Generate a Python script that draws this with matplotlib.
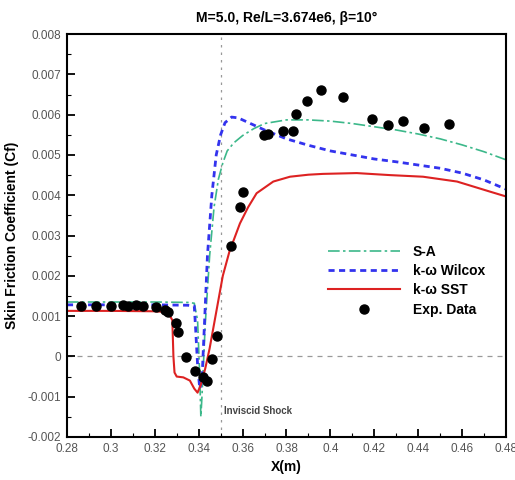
import matplotlib
matplotlib.use("Agg")
import matplotlib.pyplot as plt
from matplotlib.ticker import MultipleLocator, FormatStrFormatter

plt.rcParams['font.family'] = ['Liberation Sans', 'DejaVu Sans']

# S-A model
sa_x = [0.28, 0.30, 0.32, 0.335, 0.338, 0.3395, 0.3405, 0.341, 0.3415, 0.343, 0.345,
        0.347, 0.349, 0.351, 0.353, 0.356, 0.36, 0.365, 0.37, 0.38, 0.39, 0.40, 0.41,
        0.42, 0.43, 0.44, 0.45, 0.46, 0.47, 0.48]
sa_cf = [0.00135, 0.00135, 0.00135, 0.00134, 0.00132, 0.0009, -0.0005, -0.0015, -0.0010,
         0.0008, 0.0025, 0.0037, 0.0044, 0.0048, 0.0051, 0.0053, 0.00548, 0.00565, 0.00578,
         0.00587, 0.00587, 0.00584, 0.00578, 0.0057, 0.00562, 0.00552, 0.0054, 0.00525,
         0.00508, 0.00488]

# k-omega Wilcox
wil_x = [0.28, 0.30, 0.32, 0.335, 0.338, 0.3385, 0.3395, 0.3405, 0.3415, 0.3428, 0.344,
         0.346, 0.348, 0.350, 0.352, 0.355, 0.358, 0.362, 0.366, 0.37, 0.38, 0.39, 0.40,
         0.41, 0.42, 0.43, 0.44, 0.45, 0.46, 0.47, 0.48]
wil_cf = [0.00128, 0.00128, 0.00128, 0.00127, 0.00125, 0.0008, -0.0002, -0.0008, -0.0006,
          0.0010, 0.0025, 0.0040, 0.0050, 0.0055, 0.0058, 0.00594, 0.00592, 0.00582, 0.00572,
          0.00562, 0.0054, 0.00524, 0.0051, 0.005, 0.0049, 0.00483, 0.00475, 0.00467,
          0.00455, 0.00438, 0.00415]

# k-omega SST
sst_x = [0.28, 0.30, 0.32, 0.326, 0.328, 0.3285, 0.329, 0.330, 0.333, 0.336, 0.338, 0.3395,
         0.341, 0.343, 0.345, 0.347, 0.349, 0.351, 0.354, 0.3588, 0.3625, 0.3664, 0.374,
         0.3816, 0.39, 0.3966, 0.412, 0.4271, 0.4422, 0.4577, 0.4727, 0.48]
sst_cf = [0.00113, 0.00113, 0.00112, 0.0011, 0.0009, 0.0000, -0.0004, -0.0005, -0.00052,
          -0.0006, -0.0008, -0.0009, -0.0007, -0.0003, 0.0002, 0.0008, 0.0014, 0.0020,
          0.0026, 0.0033, 0.0037, 0.00405, 0.00434, 0.00446, 0.00451, 0.00453, 0.00455,
          0.0045, 0.00446, 0.00434, 0.00409, 0.00397]

# experiment
exp_x = [0.2862, 0.2931, 0.3000, 0.3054, 0.3079, 0.3114, 0.3148, 0.3205, 0.3246, 0.3261,
         0.3295, 0.3307, 0.3341, 0.3383, 0.3418, 0.3436, 0.3459, 0.3485, 0.3547, 0.3588,
         0.3600, 0.3697, 0.3717, 0.3783, 0.3831, 0.3842, 0.3895, 0.3956, 0.4059, 0.4188,
         0.4264, 0.4332, 0.4428, 0.4542]
exp_cf = [0.00126, 0.00126, 0.00126, 0.00128, 0.00126, 0.00128, 0.00126, 0.00122, 0.00114,
          0.0011, 0.00084, 0.0006, -0.00002, -0.00037, -0.0005, -0.00061, -0.00006, 0.00051,
          0.00274, 0.0037, 0.00408, 0.0055, 0.00552, 0.0056, 0.0056, 0.00602, 0.00633,
          0.00662, 0.00645, 0.0059, 0.00574, 0.00584, 0.00567, 0.00578]

fig = plt.figure(figsize=(5.15, 4.8), dpi=100)
ax = fig.add_axes([0.130, 0.0896, 0.8525, 0.8394])

ax.axhline(0, color='#999999', lw=0.9, ls=(0, (4, 4)), zorder=1)
ax.axvline(0.35, color='#999999', lw=0.9, ls=(0, (2, 4)), zorder=1)

ax.plot(sa_x, sa_cf, color='#3cb88a', lw=1.2, ls=(0, (7, 2, 1.5, 2)), label='S-A')
ax.plot(wil_x, wil_cf, color='#3333ee', lw=2.0, ls=(0, (2.2, 1.6)), label='k-\u03c9 Wilcox')
ax.plot(sst_x, sst_cf, color='#dd2222', lw=1.5, label='k-\u03c9 SST')
ax.plot(exp_x, exp_cf, 'o', color='black', ms=6.5, ls='none', label='Exp. Data', zorder=5)

ax.text(0.3515, -0.00135, 'Inviscid Shock', fontsize=7, fontweight='bold', color='#444444',
        va='center', ha='left')

ax.set_xlim(0.28, 0.48)
ax.set_ylim(-0.002, 0.008)
ax.xaxis.set_major_locator(MultipleLocator(0.02))
ax.xaxis.set_minor_locator(MultipleLocator(0.01))
ax.yaxis.set_major_locator(MultipleLocator(0.001))
ax.yaxis.set_minor_locator(MultipleLocator(0.0005))
ax.xaxis.set_major_formatter(FormatStrFormatter('%g'))
ax.yaxis.set_major_formatter(FormatStrFormatter('%g'))
ax.tick_params(which='major', direction='in', length=6, width=1.3, labelsize=8.5,
               labelcolor='#555555', pad=4)
ax.tick_params(which='minor', direction='in', length=3, width=0.8)
for s in ax.spines.values():
    s.set_linewidth(1.5)

ax.set_title('M=5.0, Re/L=3.674e6, \u03b2=10\u00b0', fontsize=10, fontweight='bold', pad=9)
ax.set_xlabel('X(m)', fontsize=10, fontweight='bold', labelpad=4)
ax.set_ylabel('Skin Friction Coefficient (Cf)', fontsize=10, fontweight='bold', labelpad=6)

ax.legend(loc='upper left', bbox_to_anchor=(0.595, 0.477), frameon=False,
          prop={'weight': 'bold', 'size': 10}, handlelength=5.2, handletextpad=0.9,
          labelspacing=0.38, borderpad=0, borderaxespad=0)

fig.savefig('out.png', dpi=100)
